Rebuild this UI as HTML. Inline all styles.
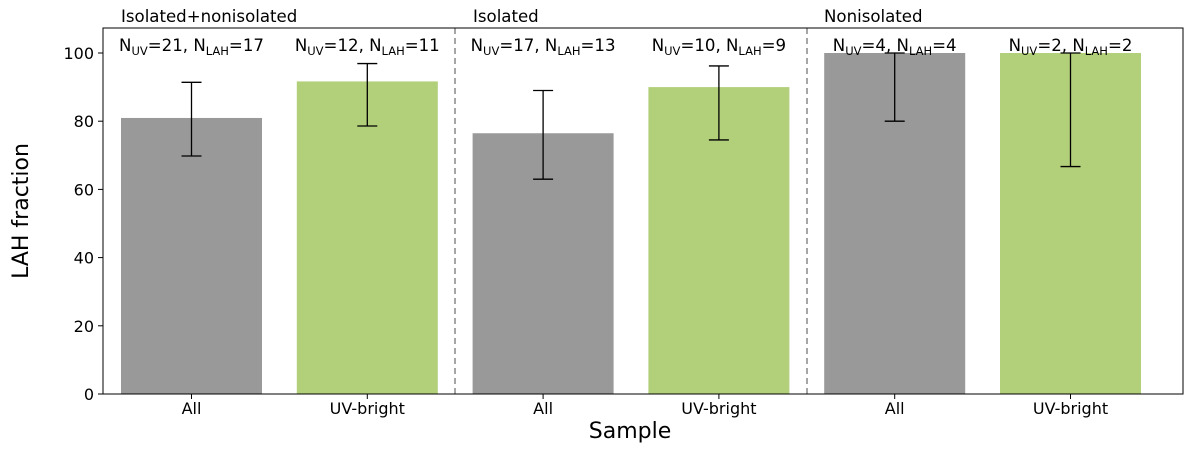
<!DOCTYPE html>
<html><head><meta charset="utf-8"><style>
body{margin:0;background:#fff;}
svg text{font-family:"DejaVu Sans","Liberation Sans",sans-serif;fill:#000;}
</style></head><body>
<svg id="chart" width="1200" height="450">
<rect x="0" y="0" width="1200" height="450" fill="#fff"/>
<g id="bars"></g>
<g id="axes"></g>
</svg>
<script>
const categories = ["All","UV-bright","All","UV-bright","All","UV-bright"];
const values = [80.95, 91.67, 76.47, 90.0, 100, 100];
const errLow = [69.8, 78.6, 63.0, 74.5, 80.0, 66.7];
const errHigh = [91.4, 96.9, 89.0, 96.2, 100, 100];
const nUV = ["21","12","17","10","4","2"];
const nLAH = ["17","11","13","9","4","2"];
const groupTitles = ["Isolated+nonisolated","Isolated","Nonisolated"];
const yTicks = [0,20,40,60,80,100];

const NS="http://www.w3.org/2000/svg";
const L=103,R=1183,T=28,B=394;
function Y(v){return B - v*(394-53)/100;}
function X(i){return 191.5 + i*175.8;}
const bw=141;
function el(tag,attrs,parent,text){const e=document.createElementNS(NS,tag);for(const k in attrs)e.setAttribute(k,attrs[k]);if(text!==undefined)e.textContent=text;parent.appendChild(e);return e;}
const bars=document.getElementById('bars'), axes=document.getElementById('axes');
values.forEach((v,i)=>{
  const r=el('rect',{x:X(i)-bw/2,y:Y(v),width:bw,height:Y(0)-Y(v),fill:i%2?'#b2cf7a':'#999999'},bars);
  
  
  const g=el('g',{stroke:'#000','stroke-width':1.3},bars);
  
  
  el('line',{x1:X(i),x2:X(i),y1:Y(errLow[i]),y2:Y(errHigh[i])},g);
  el('line',{x1:X(i)-10,x2:X(i)+10,y1:Y(errLow[i]),y2:Y(errLow[i])},g);
  el('line',{x1:X(i)-10,x2:X(i)+10,y1:Y(errHigh[i]),y2:Y(errHigh[i])},g);
  const t=el('text',{x:X(i),y:51,'text-anchor':'middle','font-size':16.6},bars);
  
  
  t.innerHTML='N<tspan font-size="11.5" dy="4">UV</tspan><tspan dy="-4">='+nUV[i]+', N</tspan><tspan font-size="11.5" dy="4">LAH</tspan><tspan dy="-4">='+nLAH[i]+'</tspan>';
  const c=el('text',{x:X(i),y:414,'text-anchor':'middle','font-size':16},axes,categories[i]);
  
  
  el('line',{x1:X(i),x2:X(i),y1:B,y2:B+5,stroke:'#000'},axes);
});
[455,807].forEach((xx,i)=>{
  const d=el('line',{x1:xx,x2:xx,y1:T,y2:B,stroke:'#888','stroke-width':1.5,'stroke-dasharray':'6,4'},axes);
  
  
});
groupTitles.forEach((g,i)=>{
  const t=el('text',{x:[121,473,824][i],y:22,'font-size':16.6},axes,g);
  
  
});
yTicks.forEach(v=>{
  el('line',{x1:L-5,x2:L,y1:Y(v),y2:Y(v),stroke:'#000'},axes);
  const t=el('text',{x:L-9,y:Y(v)+6,'text-anchor':'end','font-size':16},axes,v);
  
  
});
const f=el('rect',{x:L,y:T,width:R-L,height:B-T,fill:'none',stroke:'#000','stroke-width':1},axes);


const xt=el('text',{x:630,y:438,'text-anchor':'middle','font-size':22},axes,'Sample');


const yt=el('text',{x:0,y:0,'text-anchor':'middle','font-size':22,transform:'translate(28,211) rotate(-90)'},axes,'LAH fraction');


</script>
</body></html>
